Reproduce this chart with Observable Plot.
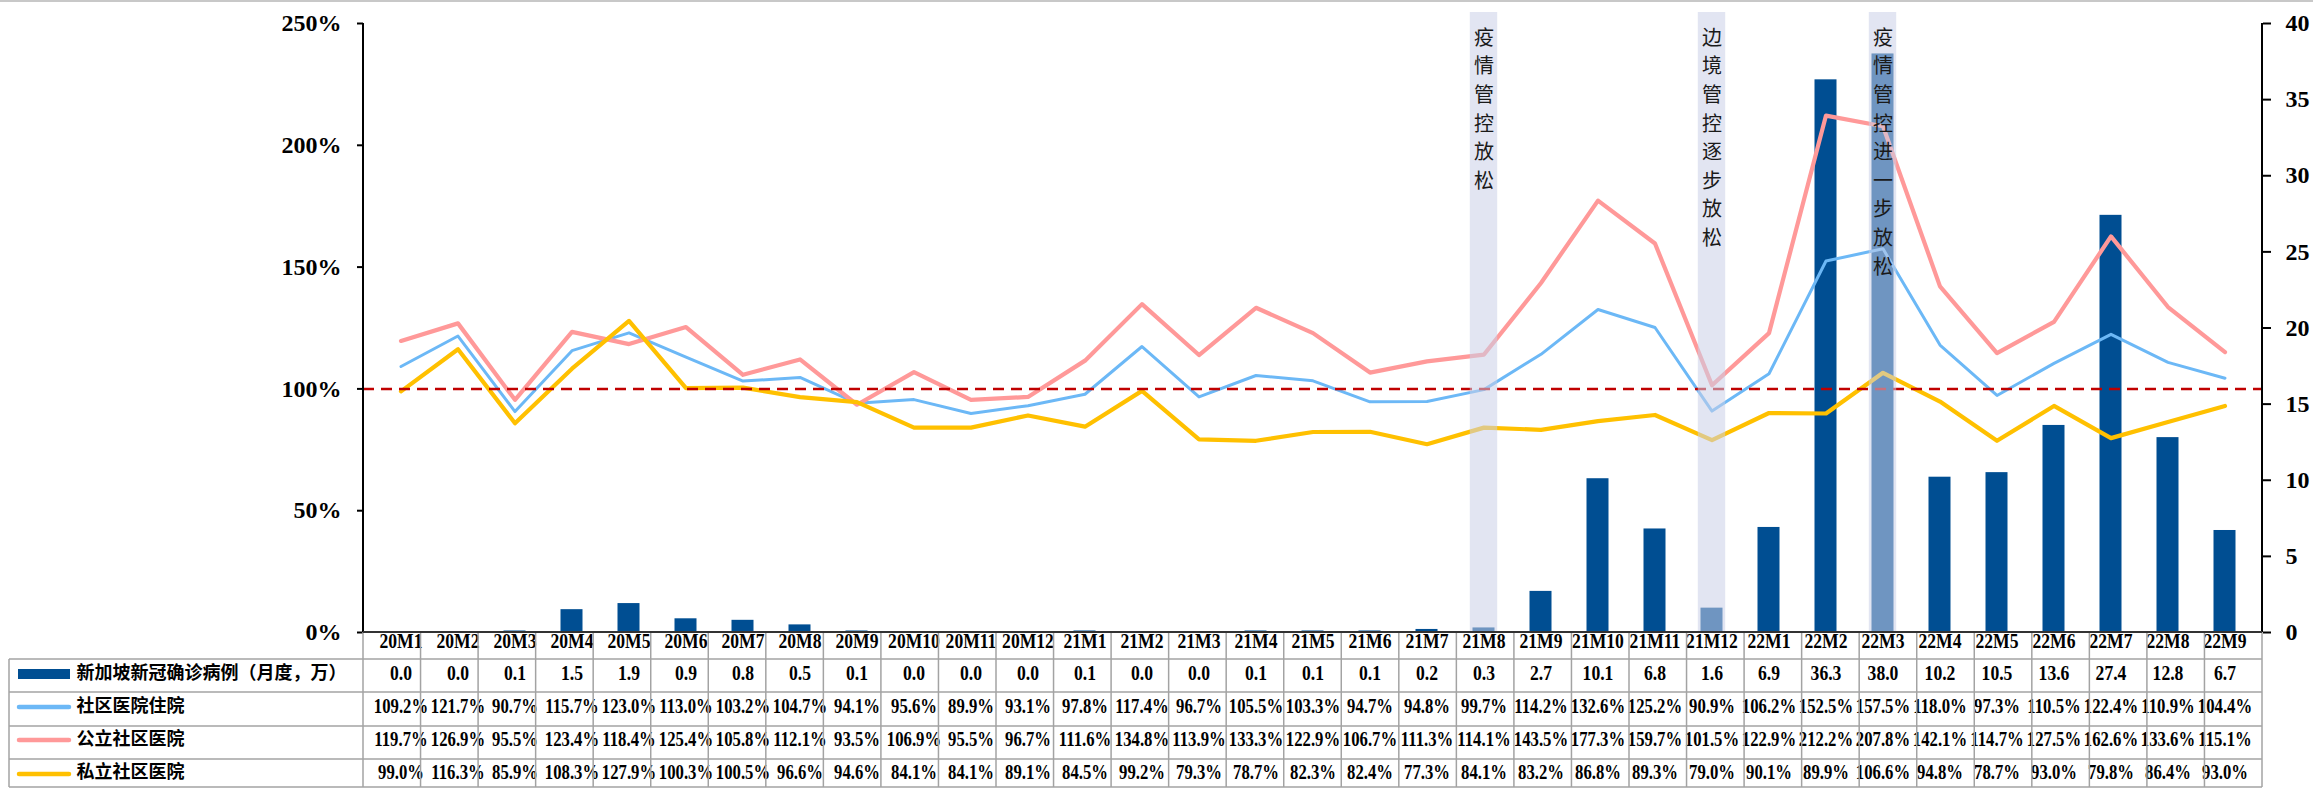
<!DOCTYPE html>
<html>
<head>
<meta charset="utf-8">
<script src="https://cdn.jsdelivr.net/npm/d3@7"></script>
<script src="https://cdn.jsdelivr.net/npm/@observablehq/plot@0.6"></script>
<style>
  html, body { margin: 0; padding: 0; background: #fff; }
  svg { display: block; }
</style>
</head>
<body>
<div id="chart"></div>
<script>
// ---------- data ----------
const months = ["20M1","20M2","20M3","20M4","20M5","20M6","20M7","20M8","20M9","20M10","20M11","20M12",
                "21M1","21M2","21M3","21M4","21M5","21M6","21M7","21M8","21M9","21M10","21M11","21M12",
                "22M1","22M2","22M3","22M4","22M5","22M6","22M7","22M8","22M9"];
const cases = [0.0,0.0,0.1,1.5,1.9,0.9,0.8,0.5,0.1,0.0,0.0,0.0,
               0.1,0.0,0.0,0.1,0.1,0.1,0.2,0.3,2.7,10.1,6.8,1.6,
               6.9,36.3,38.0,10.2,10.5,13.6,27.4,12.8,6.7];
const hospital = [109.2,121.7,90.7,115.7,123.0,113.0,103.2,104.7,94.1,95.6,89.9,93.1,
                  97.8,117.4,96.7,105.5,103.3,94.7,94.8,99.7,114.2,132.6,125.2,90.9,
                  106.2,152.5,157.5,118.0,97.3,110.5,122.4,110.9,104.4];
const publicCH = [119.7,126.9,95.5,123.4,118.4,125.4,105.8,112.1,93.5,106.9,95.5,96.7,
                  111.6,134.8,113.9,133.3,122.9,106.7,111.3,114.1,143.5,177.3,159.7,101.5,
                  122.9,212.2,207.8,142.1,114.7,127.5,162.6,133.6,115.1];
const privateCH = [99.0,116.3,85.9,108.3,127.9,100.3,100.5,96.6,94.6,84.1,84.1,89.1,
                   84.5,99.2,79.3,78.7,82.3,82.4,77.3,84.1,83.2,86.8,89.3,79.0,
                   90.1,89.9,106.6,94.8,78.7,93.0,79.8,86.4,93.0];
const rowLabels = ["新加坡新冠确诊病例（月度，万）","社区医院住院","公立社区医院","私立社区医院"];
const eventMonths = ["21M8","21M12","22M3"];
const eventTexts = ["疫情管控放松","边境管控逐步放松","疫情管控进一步放松"];
const leftTicks = [0,50,100,150,200,250];
const rightTicks = [0,5,10,15,20,25,30,35,40];
const refLine = [100];

// ---------- layout / style ----------
const W = 2313, H = 788;
const mL = 363, mR = 51, mT = 23, mB = 156;
const BAR = "#004E92", BLUE = "#6CB8F6", PINK = "#FF9999", GOLD = "#FFC000";
const K = 250 / 40; // right axis units -> left axis units
const SERIF = "'Liberation Serif','Times New Roman',serif";
const CJK = "'Noto Sans CJK SC','Noto Sans CJK JP',sans-serif";
const TFS = 22; // table font size

const caseData = months.map((m, i) => ({month: m, value: cases[i]}));
const series = [
  {values: hospital, color: BLUE, width: 3},
  {values: publicCH, color: PINK, width: 4.2},
  {values: privateCH, color: GOLD, width: 4.2}
];
const events = eventMonths.map((m, i) => ({month: m, text: eventTexts[i]}));
const fmt1 = v => v.toFixed(1);
const fmtP = v => v.toFixed(1) + "%";

const yTopBand = 250 + (mT - 12) * 250 / (H - mB - mT);
const tableText = {frameAnchor: "bottom", fontSize: TFS, fontWeight: "bold", fill: "#000"};
const rowDy = [15, 47, 80, 113, 146];

const marks = [
  Plot.barY(caseData, {x: "month", y: d => d.value * K, fill: BAR, insetLeft: 17.5, insetRight: 17.5}),
  ...series.map(s => Plot.line(months.map((m, i) => ({month: m, v: s.values[i]})), {
    x: "month", y: "v", stroke: s.color, strokeWidth: s.width, strokeLinejoin: "round", strokeLinecap: "round"
  })),
  Plot.ruleY(refLine, {stroke: "#C00000", strokeWidth: 2.5, strokeDasharray: "11,7"}),
  Plot.barY(events, {x: "month", y1: 0, y2: yTopBand, fill: "#cbcfe8", fillOpacity: 0.55, insetLeft: 14.8, insetRight: 14.8}),
  Plot.text(events, {x: "month", text: d => Array.from(d.text).join("\n"), frameAnchor: "top", lineAnchor: "top",
    dy: 1, fontSize: 20, lineHeight: 1.43, fill: "#1a1a1a", fontFamily: CJK}),
  Plot.axisY(leftTicks, {anchor: "left", label: null, tickSize: 6, tickPadding: 16, tickFormat: d => d + "%",
    fontSize: 24, fontWeight: "bold", strokeWidth: 2, fill: "#000", stroke: "#000"}),
  Plot.axisY(rightTicks.map(v => v * K), {anchor: "right", label: null, tickSize: 8, tickPadding: 15, tickFormat: d => String(Math.round(d / K)),
    fontSize: 24, fontWeight: "bold", strokeWidth: 2, fill: "#000", stroke: "#000"}),
  // table: header labels and values
  Plot.text(months, {...tableText, x: d => d, text: d => d, dy: rowDy[0]}),
  Plot.text(caseData, {...tableText, x: "month", text: d => fmt1(d.value), dy: rowDy[1]}),
  Plot.text(months.map((m, i) => ({month: m, v: hospital[i]})), {...tableText, x: "month", text: d => fmtP(d.v), dy: rowDy[2]}),
  Plot.text(months.map((m, i) => ({month: m, v: publicCH[i]})), {...tableText, x: "month", text: d => fmtP(d.v), dy: rowDy[3]}),
  Plot.text(months.map((m, i) => ({month: m, v: privateCH[i]})), {...tableText, x: "month", text: d => fmtP(d.v), dy: rowDy[4]})
];
rowLabels.forEach((lab, i) => {
  marks.push(Plot.text([lab], {text: d => d, frameAnchor: "bottom-left", textAnchor: "start", dx: 76 - mL,
    dy: rowDy[i + 1] - 1, fontSize: 18, fontWeight: "bold", fontFamily: CJK, fill: "#000"}));
});

const plot = Plot.plot({
  width: W, height: H,
  marginLeft: mL, marginRight: mR, marginTop: mT, marginBottom: mB,
  x: {type: "band", domain: months, padding: 0, axis: null},
  y: {domain: [0, 250], axis: null},
  style: {background: "#fff", fontFamily: SERIF, overflow: "visible", color: "#000"},
  marks
});

// condensed look of the table figures (as in the reference)
const svg = d3.select(plot);
svg.selectAll("text").each(function () {
  const p = this.parentNode;
  const fs = p && p.getAttribute && p.getAttribute("font-size");
  if (fs !== String(TFS)) return;
  const s = this.textContent.includes("%") ? 0.76 : 0.8;
  let t = this.getAttribute("transform");
  if (!t) {
    const x = +this.getAttribute("x") || 0, y = +this.getAttribute("y") || 0;
    this.removeAttribute("x"); this.removeAttribute("y");
    t = `translate(${x},${y})`;
  }
  this.setAttribute("transform", `${t} scale(${s},1)`);
});

// ---------- decorations: axis lines, table grid, legend swatches ----------
const xs = plot.scale("x");
const ys = plot.scale("y");
const x0 = xs.range[0], x1 = xs.range[1];
const step = (x1 - x0) / months.length;
const y0 = ys.apply(0), yTop = ys.apply(250);
const rowsY = [659, 692, 726, 759, 787];
const g = svg.append("g");
g.append("line").attr("x1", 0).attr("x2", W).attr("y1", 1).attr("y2", 1).attr("stroke", "#c8c8c8").attr("stroke-width", 2);
const grid = g.append("g").attr("stroke", "#a3a3a3").attr("stroke-width", 1.5);
d3.range(months.length + 1).forEach(i => {
  const xx = x0 + i * step;
  grid.append("line").attr("x1", xx).attr("x2", xx).attr("y1", y0).attr("y2", 787);
});
grid.append("line").attr("x1", 9).attr("x2", 9).attr("y1", 659).attr("y2", 787);
rowsY.forEach(yy => grid.append("line").attr("x1", 9).attr("x2", x1).attr("y1", yy).attr("y2", yy));
const ax = g.append("g").attr("stroke", "#000").attr("stroke-width", 2);
ax.append("line").attr("x1", x0).attr("x2", x0).attr("y1", yTop).attr("y2", y0);
ax.append("line").attr("x1", x1).attr("x2", x1).attr("y1", yTop).attr("y2", y0);
ax.append("line").attr("x1", x0).attr("x2", x1).attr("y1", y0).attr("y2", y0).attr("stroke", "#333");
g.append("rect").attr("x", 18).attr("y", 669).attr("width", 52).attr("height", 10).attr("fill", BAR);
[[707, BLUE], [740, PINK], [774, GOLD]].forEach(([yy, c]) => {
  g.append("line").attr("x1", 19).attr("x2", 69).attr("y1", yy).attr("y2", yy)
    .attr("stroke", c).attr("stroke-width", 4.5).attr("stroke-linecap", "round");
});

document.getElementById("chart").appendChild(plot);
</script>
</body>
</html>
